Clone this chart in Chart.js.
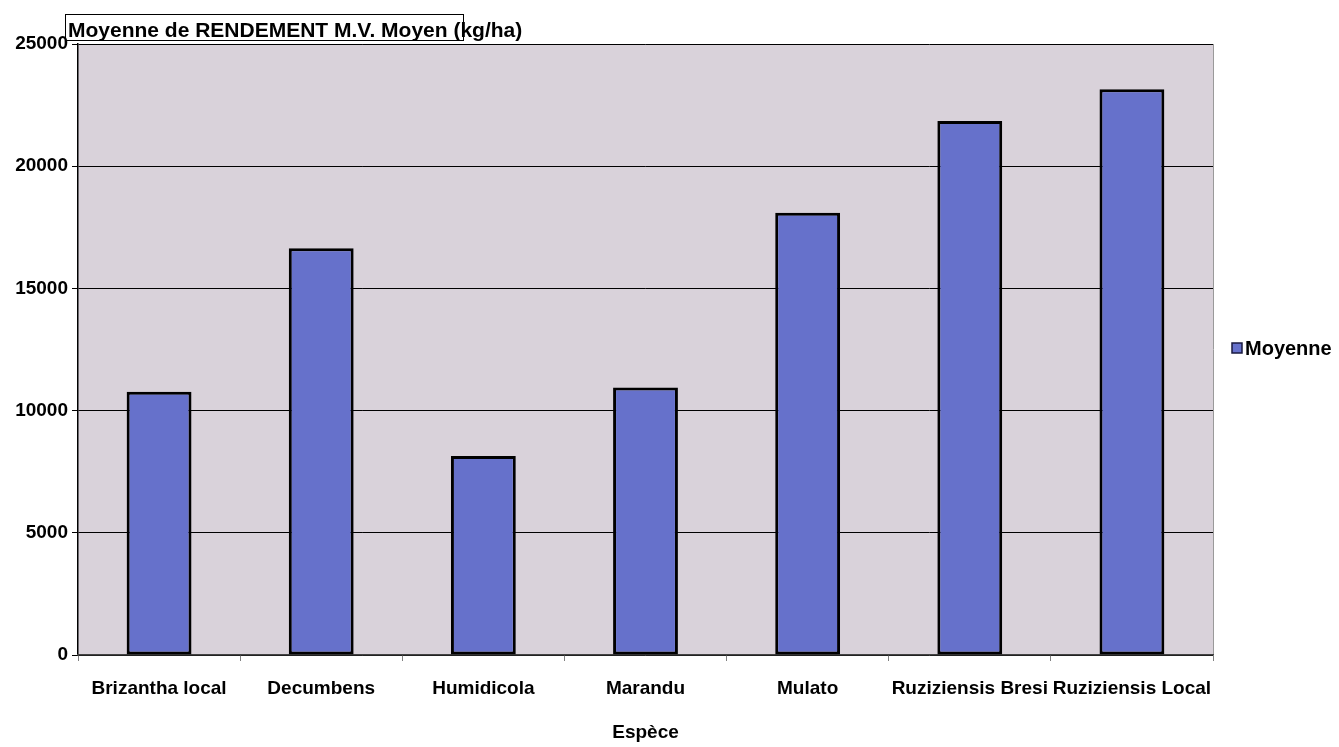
<!DOCTYPE html>
<html>
<head>
<meta charset="utf-8">
<script src="https://cdn.jsdelivr.net/npm/chart.js@4"></script>
<style>
  html, body { margin: 0; padding: 0; background: #fff; }
</style>
</head>
<body>
<canvas id="bar-chart" width="1339" height="747"></canvas>
<script>
var especes = ["Brizantha local", "Decumbens", "Humidicola", "Marandu", "Mulato", "Ruziziensis Bresi", "Ruziziensis Local"];
var moyenne = [10770, 16640, 8140, 10950, 18100, 21850, 23150];
var yMin = 0, yMax = 25000, yStep = 5000;

var titre = "Moyenne de RENDEMENT M.V. Moyen (kg/ha)";
var nomSerie = "Moyenne";
var FONT = "'Liberation Sans', Arial, sans-serif";
var barColor = "#6671cb";

// plot background, right edge, title box and legend
var decor = {
    id: 'decor',
    beforeDraw: function (chart) {
        var ctx = chart.ctx, a = chart.chartArea;
        ctx.save();
        ctx.fillStyle = "#fff";
        ctx.fillRect(0, 0, chart.width, chart.height);
        ctx.fillStyle = "#d9d2da";
        ctx.fillRect(a.left, a.top, a.right - a.left, a.bottom - a.top);
        ctx.strokeStyle = "#9a9a9a";
        ctx.lineWidth = 1;
        ctx.beginPath();
        ctx.moveTo(a.right + 0.5, a.top);
        ctx.lineTo(a.right + 0.5, a.bottom);
        ctx.stroke();
        ctx.restore();
    },
    afterDraw: function (chart) {
        var ctx = chart.ctx;
        ctx.save();
        // title
        ctx.strokeStyle = "#000";
        ctx.lineWidth = 1;
        ctx.strokeRect(65.5, 14.5, 398, 26);
        ctx.fillStyle = "#000";
        ctx.font = "bold 21px " + FONT;
        ctx.textBaseline = "alphabetic";
        ctx.textAlign = "left";
        ctx.fillText(titre, 68, 37);
        // legend
        ctx.font = "bold 20px " + FONT;
        ctx.fillStyle = barColor;
        ctx.fillRect(1232, 343, 10, 10);
        ctx.strokeStyle = "#1a1a40";
        ctx.lineWidth = 1.5;
        ctx.strokeRect(1232, 343, 10, 10);
        ctx.fillStyle = "#000";
        ctx.textBaseline = "middle";
        ctx.fillText(nomSerie, 1245, 349);
        ctx.restore();
    }
};

var chart = new Chart(document.getElementById("bar-chart"), {
    type: 'bar',
    data: {
        labels: especes,
        datasets: [{
            label: nomSerie,
            data: moyenne,
            backgroundColor: barColor,
            borderColor: "#000",
            borderWidth: 3,
            borderSkipped: false,
            barPercentage: 0.4,
            categoryPercentage: 1.0
        }]
    },
    options: {
        responsive: false,
        devicePixelRatio: 1,
        animation: false,
        layout: { padding: { top: 44, right: 126, left: 0, bottom: 0 } },
        plugins: {
            legend: { display: false },
            title: { display: false },
            tooltip: { enabled: false }
        },
        scales: {
            y: {
                min: yMin,
                max: yMax,
                afterFit: function (s) { s.width = 78; },
                ticks: {
                    stepSize: yStep,
                    color: "#000",
                    padding: 4,
                    callback: function (v) { return String(v); },
                    font: { family: FONT, size: 19, weight: 'bold' }
                },
                grid: { color: "#000", lineWidth: 1, tickLength: 6 },
                border: { color: "#000", width: 1.5 }
            },
            x: {
                afterFit: function (s) { s.height = 92; },
                ticks: {
                    color: "#000",
                    padding: 16,
                    autoSkip: false,
                    maxRotation: 0,
                    font: { family: FONT, size: 19, weight: 'bold' }
                },
                grid: { drawOnChartArea: false, tickLength: 6, color: "#808080", offset: true },
                border: { color: "#444", width: 1.5 },
                title: {
                    display: true,
                    text: "Espèce",
                    color: "#000",
                    padding: { top: 0, bottom: 3 },
                    font: { family: FONT, size: 19, weight: 'bold' }
                }
            }
        }
    },
    plugins: [decor]
});
</script>
</body>
</html>
